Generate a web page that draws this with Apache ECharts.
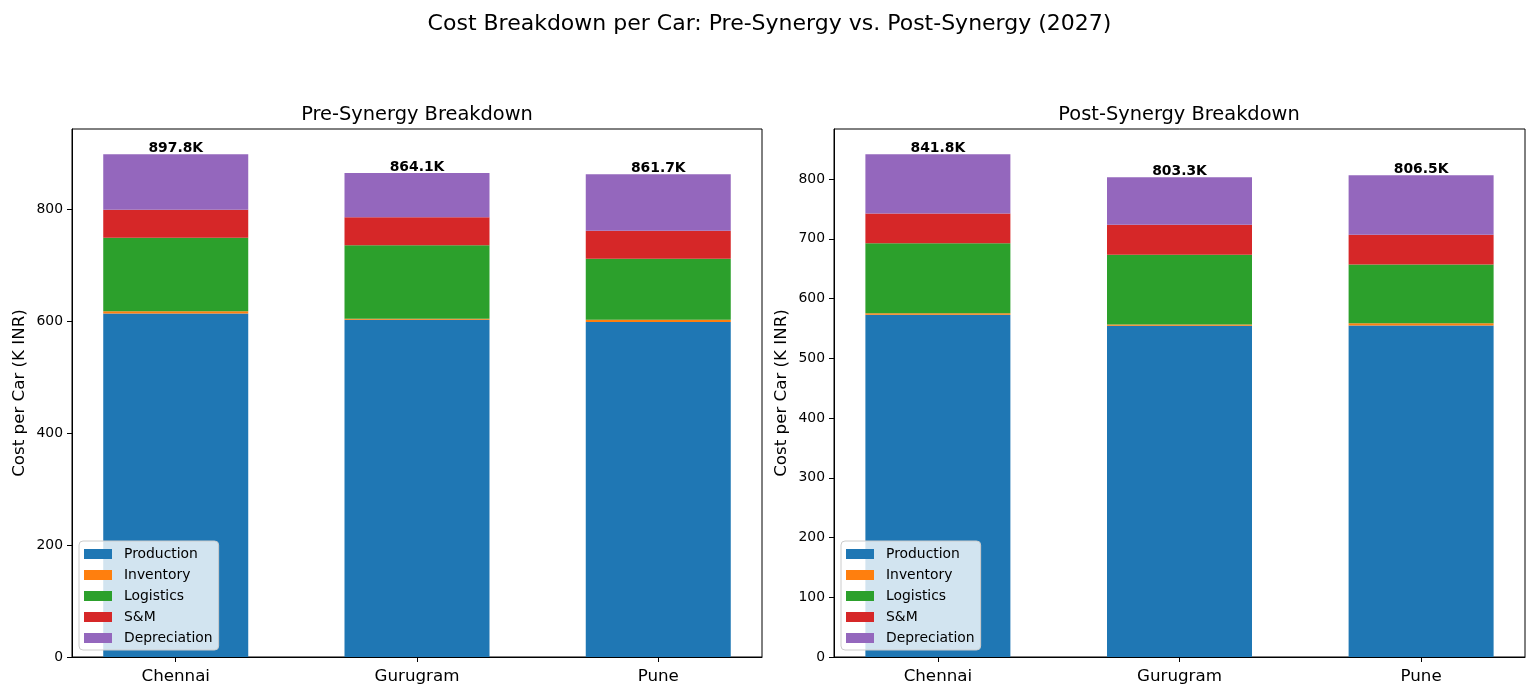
<!DOCTYPE html>
<html>
<head>
<meta charset="utf-8">
<title>Cost Breakdown per Car</title>
<script src="https://cdn.jsdelivr.net/npm/echarts@6/dist/echarts.min.js"></script>
<style>
  html, body { margin: 0; padding: 0; background: #fff; }
  #chart { width: 1539px; height: 700px; }
</style>
</head>
<body>
<div id="chart"></div>
<script>
// data (K INR per car)
var categories = ['Chennai', 'Gurugram', 'Pune'];
var components = ['Production', 'Inventory', 'Logistics', 'S&M', 'Depreciation'];

var preProduction   = [613.5, 602.0, 598.0];
var preInventory    = [4.0, 2.0, 4.0];
var preLogistics    = [131.0, 131.0, 109.0];
var preSM           = [50.0, 50.0, 50.0];
var preDepreciation = [99.3, 79.1, 100.7];

var postProduction   = [573.0, 554.5, 555.0];
var postInventory    = [2.5, 2.0, 3.5];
var postLogistics    = [117.0, 117.0, 98.5];
var postSM           = [50.0, 50.0, 50.0];
var postDepreciation = [99.3, 79.8, 99.5];

var preTicks  = [0, 200, 400, 600, 800];
var postTicks = [0, 100, 200, 300, 400, 500, 600, 700, 800];

var colors = ['#1f77b4', '#ff7f0e', '#2ca02c', '#d62728', '#9467bd'];
var font = 'DejaVu Sans';

function totalsOf(lists) {
    return categories.map(function (c, i) {
        var s = 0;
        lists.forEach(function (l) { s += l[i]; });
        return s;
    });
}

var preLists = [preProduction, preInventory, preLogistics, preSM, preDepreciation];
var postLists = [postProduction, postInventory, postLogistics, postSM, postDepreciation];
var preTotals = totalsOf(preLists);
var postTotals = totalsOf(postLists);

function makeSeries(lists, totals, idx, stackName) {
    return lists.map(function (vals, k) {
        var s = {
            name: components[k],
            type: 'bar',
            stack: stackName,
            xAxisIndex: idx,
            yAxisIndex: idx,
            barWidth: 145,
            itemStyle: { color: colors[k] },
            emphasis: { disabled: true },
            // value first so that the stack works on y (x is a value axis here)
            encode: { x: 1, y: 0 },
            data: vals.map(function (v, i) { return [v, i]; })
        };
        if (k === lists.length - 1) {
            s.label = {
                show: true,
                position: 'top',
                distance: -1,
                fontFamily: font,
                fontSize: 13.9,
                fontWeight: 'bold',
                color: '#000',
                formatter: function (p) { return totals[p.dataIndex].toFixed(1) + 'K'; }
            };
        }
        return s;
    });
}

function xAxisFor(idx) {
    return {
        gridIndex: idx,
        type: 'value',
        min: -0.43,
        max: 2.43,
        splitLine: { show: false },
        axisLine: { show: true, onZero: false, lineStyle: { color: '#000' } },
        axisTick: { customValues: [0, 1, 2], length: 5, lineStyle: { color: '#000' } },
        axisLabel: {
            customValues: [0, 1, 2],
            formatter: function (v) { return categories[v]; },
            fontFamily: font, fontSize: 16.7, color: '#000', margin: 11
        }
    };
}

function yAxisFor(idx, ticks, maxVal) {
    return {
        gridIndex: idx,
        type: 'value',
        min: 0,
        max: maxVal,
        name: 'Cost per Car (K INR)',
        nameLocation: 'middle',
        nameGap: 44,
        nameTextStyle: { fontFamily: font, fontSize: 16.7, color: '#000' },
        splitLine: { show: false },
        axisLine: { show: true, onZero: false, lineStyle: { color: '#000' } },
        axisTick: { customValues: ticks, length: 5, lineStyle: { color: '#000' } },
        axisLabel: { customValues: ticks, fontFamily: font, fontSize: 13.9, color: '#000', margin: 9 }
    };
}

function legendAt(left) {
    return {
        orient: 'vertical',
        left: left,
        top: 541,
        icon: 'rect',
        itemWidth: 28,
        itemHeight: 10,
        itemGap: 7,
        padding: [6, 6, 5, 5],
        backgroundColor: 'rgba(255,255,255,0.8)',
        borderColor: '#cccccc',
        borderWidth: 1,
        borderRadius: 4,
        selectedMode: false,
        textStyle: { fontFamily: font, fontSize: 13.9, color: '#000', padding: [0, 0, 0, 7] },
        data: components
    };
}

var myChart = echarts.init(document.getElementById('chart'));

var option = {
    animation: false,
    textStyle: { fontFamily: font },
    title: [
        { text: 'Cost Breakdown per Car: Pre-Synergy vs. Post-Synergy (2027)', left: 'center', top: 8,
          textStyle: { fontFamily: font, fontSize: 22, fontWeight: 'normal', color: '#000' } },
        { text: 'Pre-Synergy Breakdown', left: 417, top: 105, textAlign: 'center', padding: 0,
          textStyle: { fontFamily: font, fontSize: 19.4, fontWeight: 'normal', color: '#000' } },
        { text: 'Post-Synergy Breakdown', left: 1179, top: 105, textAlign: 'center', padding: 0,
          textStyle: { fontFamily: font, fontSize: 19.4, fontWeight: 'normal', color: '#000' } }
    ],
    legend: [legendAt(79), legendAt(841)],
    grid: [
        { left: 72, top: 129, width: 690, height: 528, show: true, borderColor: '#000', borderWidth: 1 },
        { left: 834, top: 129, width: 691, height: 528, show: true, borderColor: '#000', borderWidth: 1 }
    ],
    xAxis: [xAxisFor(0), xAxisFor(1)],
    yAxis: [
        yAxisFor(0, preTicks, Math.max.apply(null, preTotals) * 1.05),
        yAxisFor(1, postTicks, Math.max.apply(null, postTotals) * 1.05)
    ],
    series: makeSeries(preLists, preTotals, 0, 'pre').concat(makeSeries(postLists, postTotals, 1, 'post'))
};

myChart.setOption(option);
</script>
</body>
</html>
